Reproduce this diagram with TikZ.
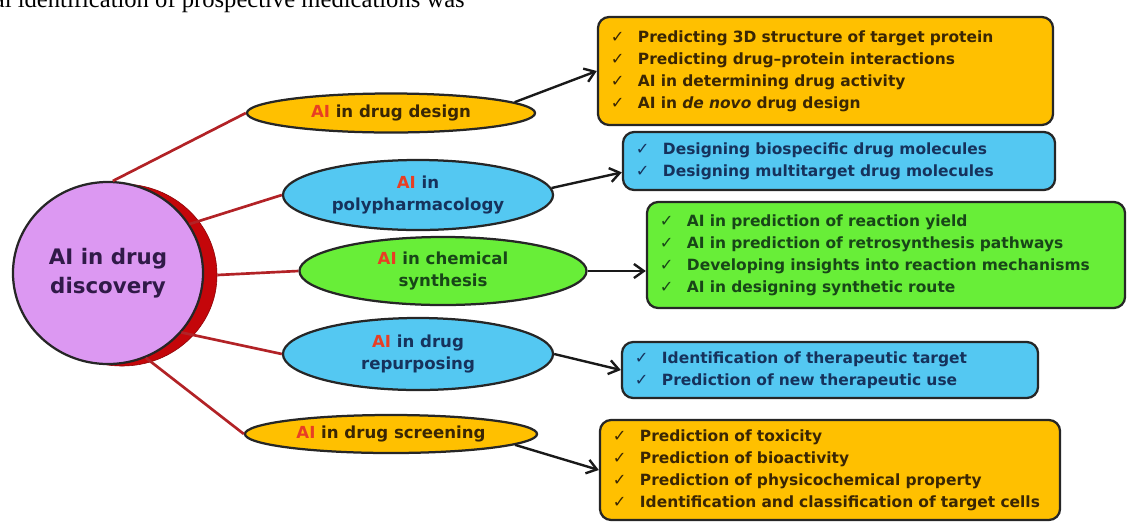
\documentclass[tikz,border=0pt]{standalone}
\usepackage{fontspec}
\setmainfont{DejaVu Sans}
\newfontfamily\serifface{Liberation Serif}
\usetikzlibrary{shapes.geometric,arrows.meta}

\definecolor{hubfill}{RGB}{220,152,242}
\definecolor{hubtext}{RGB}{48,26,72}
\definecolor{rimred}{RGB}{196,6,10}
\definecolor{linkred}{RGB}{178,34,38}
\definecolor{aired}{RGB}{232,62,36}
\definecolor{amber}{RGB}{255,192,0}
\definecolor{amberdark}{RGB}{58,38,4}
\definecolor{sky}{RGB}{84,200,242}
\definecolor{skydark}{RGB}{22,50,92}
\definecolor{lime}{RGB}{104,238,56}
\definecolor{limedark}{RGB}{24,70,24}

\newcommand{\redAI}{\textcolor{aired}{AI}}
\newcommand{\tick}[1]{\mbox{\makebox[0.675cm][l]{\mdseries\fontsize{11.5}{10}\selectfont ✓}#1}}

\begin{document}
\begin{tikzpicture}[x=0.025cm,y=-0.025cm]
\tikzstyle{hub}=[ellipse, draw=black!85, line width=1.6pt, fill=hubfill, minimum width=4.75cm, minimum height=4.55cm, align=center, text=hubtext, font=\fontsize{15.2}{20.5}\selectfont\bfseries]
\tikzstyle{rim}=[ellipse, fill=rimred, draw=rimred!70!black, minimum width=4.75cm, minimum height=4.55cm]
\tikzstyle{topic}=[ellipse, draw=black!85, line width=1.6pt, inner sep=1pt, align=center, font=\fontsize{11.8}{16.3}\selectfont\bfseries]
\tikzstyle{list}=[rectangle, rounded corners=8pt, draw=black!85, line width=1.6pt, align=left, inner xsep=0.325cm, inner ysep=0pt, font=\fontsize{11}{15.6}\selectfont\bfseries]
\tikzstyle{link}=[draw=linkred, line width=1.9pt]
\tikzstyle{feed}=[-{Straight Barb[length=7pt,width=10pt]}, line width=1.7pt, draw=black!90]

  \useasboundingbox (0,0) rectangle (1137,522);

  % text line running above the figure
  \node[anchor=base east, inner sep=0pt, font=\serifface\fontsize{17.5}{20}\selectfont] (para) at (465,7) {ical identification of prospective medications was};

  % centre disc with its red rim
  \node[rim] (rim) at (122,275) {};
  \node[hub] (hub) at (108,273) {AI in drug\\discovery};

  % topics
  \node[topic, fill=amber, text=amberdark, minimum width=7.2cm, minimum height=0.975cm] (design) at (391,113) {\redAI{} in drug design};
  \node[topic, fill=sky, text=skydark, minimum width=6.75cm, minimum height=1.75cm] (poly) at (418,195) {\redAI{} in\\polypharmacology};
  \node[topic, fill=lime, text=limedark, minimum width=7.175cm, minimum height=1.7cm] (chem) at (443,271) {\redAI{} in chemical\\synthesis};
  \node[topic, fill=sky, text=skydark, minimum width=6.75cm, minimum height=1.8cm] (repurp) at (418,354) {\redAI{} in drug\\repurposing};
  \node[topic, fill=amber, text=amberdark, minimum width=7.3cm, minimum height=0.95cm] (screen) at (391,434) {\redAI{} in drug screening};

  % lists
  \node[list, fill=amber, text=amberdark, text width=10.725cm, minimum height=2.7cm] (designlist) at (825.5,71) {%
    \tick{Predicting 3D structure of target protein}\\
    \tick{Predicting drug--protein interactions}\\
    \tick{AI in determining drug activity}\\
    \tick{AI in \textit{de novo} drug design}};
  \node[list, fill=sky, text=skydark, text width=10.15cm, minimum height=1.45cm] (polylist) at (839,161) {%
    \tick{Designing biospecific drug molecules}\\
    \tick{Designing multitarget drug molecules}};
  \node[list, fill=lime, text=limedark, text width=11.3cm, minimum height=2.65cm] (chemlist) at (886,255) {%
    \tick{AI in prediction of reaction yield}\\
    \tick{AI in prediction of retrosynthesis pathways}\\
    \tick{Developing insights into reaction mechanisms}\\
    \tick{AI in designing synthetic route}};
  \node[list, fill=sky, text=skydark, text width=9.75cm, minimum height=1.4cm] (repurplist) at (830,370) {%
    \tick{Identification of therapeutic target}\\
    \tick{Prediction of new therapeutic use}};
  \node[list, fill=amber, text=amberdark, text width=10.85cm, minimum height=2.5cm] (screenlist) at (830,470) {%
    \tick{Prediction of toxicity}\\
    \tick{Prediction of bioactivity}\\
    \tick{Prediction of physicochemical property}\\
    \tick{Identification and classification of target cells}};

  % disc to topics
  \path (hub.87) edge [link] (design.west);
  \path (hub.31) edge [link] (poly.west);
  \path (rim.east) edge [link] (chem.west);
  \path (hub.-39) edge [link] (repurp.west);
  \path (hub.-66) edge [link] (screen.west);

  % topics to lists
  \path (design.5) edge [feed] (designlist.west);
  \path (poly.3) edge [feed] (polylist.183);
  \draw[feed] (chem.east) -- (chem.east -| chemlist.west);
  \path (repurp.east) edge [feed] (repurplist.west);
  \path (screen.-5) edge [feed] (screenlist.west);

\end{tikzpicture}
\end{document}
